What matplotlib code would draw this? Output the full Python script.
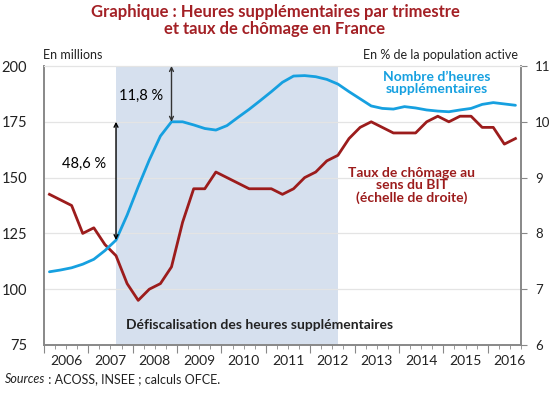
import numpy as np
import matplotlib.pyplot as plt

plt.rcParams['font.family'] = ['Lato', 'DejaVu Sans']

# Quarterly data, 2006Q1 -> 2016Q3
heures = [107.8, 108.6, 109.6, 111.2, 113.4, 117.3, 122.0, 133.2, 145.9, 157.9,
          168.6, 175.0, 175.0, 173.6, 172.0, 171.3, 173.3, 177.0, 180.6, 184.5,
          188.5, 192.7, 195.5, 195.7, 195.2, 194.0, 191.9, 188.5, 185.3, 182.1,
          181.0, 180.7, 181.8, 181.2, 180.3, 179.8, 179.5, 180.3, 181.0, 182.8,
          183.6, 183.0, 182.4]
chomage = [8.7, 8.6, 8.5, 8.0, 8.1, 7.8, 7.6, 7.1, 6.8, 7.0, 7.1, 7.4, 8.2, 8.8,
           8.8, 9.1, 9.0, 8.9, 8.8, 8.8, 8.8, 8.7, 8.8, 9.0, 9.1, 9.3, 9.4, 9.7,
           9.9, 10.0, 9.9, 9.8, 9.8, 9.8, 10.0, 10.1, 10.0, 10.1, 10.1, 9.9, 9.9,
           9.6, 9.7]
years = list(range(2006, 2017))
left_ticks = [75, 100, 125, 150, 175, 200]
right_ticks = [6, 7, 8, 9, 10, 11]
periode_defisc = (2007.625, 2012.625)

blue = '#16a0e0'
red = '#9c1c1c'
title_red = '#a32025'

x = 2006 + (np.arange(len(heures)) + 0.5) / 4

fig = plt.figure(figsize=(5.5, 3.93), dpi=100)
ax = fig.add_axes([43.9 / 550, 1 - 345 / 393, (521 - 43.9) / 550, (345 - 66) / 393])
ax2 = ax.twinx()

# shading and grid go on the lower (right-scale) axes so both lines sit on top
ax2.axvspan(*periode_defisc, color='#d6e0ee', lw=0, zorder=0)
for v in right_ticks[1:-1]:
    ax2.axhline(v, color='#e4e4e4', lw=0.9, zorder=1)

ax.plot(x, heures, color=blue, lw=2, zorder=3, solid_capstyle='round')
ax2.plot(x, chomage, color=red, lw=2, zorder=3)

ax.set_xlim(2006, 2016.75)
ax.set_ylim(75, 200)
ax2.set_ylim(6, 11)
ax.set_yticks(left_ticks)
ax2.set_yticks(right_ticks)

ax.set_xticks(years)
ax.set_xticklabels([])
ax.set_xticks(np.arange(2006, 2016.76, 0.25), minor=True)
ax.tick_params(axis='x', which='major', length=6, color='#888888', direction='out')
ax.tick_params(axis='x', which='minor', length=3, color='#888888', direction='out')
for yr in years:
    ax.text(yr + 0.5, -0.035, str(yr), transform=ax.get_xaxis_transform(),
            ha='center', va='top', fontsize=10, color='#222222')

ax.tick_params(axis='y', length=0, labelsize=10.5, labelcolor='#222222', pad=12)
ax2.tick_params(axis='y', length=4, color='#888888', labelsize=9.5,
                labelcolor='#222222', pad=6)

for a in (ax, ax2):
    a.spines['top'].set_color('#e4e4e4')
    for s in ('left', 'right', 'bottom'):
        a.spines[s].set_color('#888888')
        a.spines[s].set_linewidth(1.2)

ax.set_zorder(ax2.get_zorder() + 1)
ax.patch.set_visible(False)

# arrows
ax.annotate('', xy=(x[6], 175), xytext=(x[6], heures[6]),
            arrowprops=dict(arrowstyle='<->', color='black', lw=1,
                            shrinkA=0, shrinkB=0, mutation_scale=7), zorder=4)
ax.annotate('', xy=(x[11], 200), xytext=(x[11], 175),
            arrowprops=dict(arrowstyle='<->', color='#333333', lw=1,
                            shrinkA=0, shrinkB=0, mutation_scale=7), zorder=4)
ax.text(2006.9, 156, '48,6 %', ha='center', va='center', fontsize=10.5, color='black')
ax.text(2008.19, 186.6, '11,8 %', ha='center', va='center', fontsize=10.5, color='black')

ax.text(2014.85, 192.4, 'Nombre d\u2019heures\nsupplémentaires', ha='center', va='center',
        fontsize=10, fontweight='bold', color=blue, linespacing=0.95)
ax.text(2014.29, 146.5, 'Taux de chômage au\nsens du BIT\n(échelle de droite)',
        ha='center', va='center', fontsize=10, fontweight='bold', color=red,
        linespacing=1.05)
ax.text(2007.85, 84, 'Défiscalisation des heures supplémentaires', ha='left',
        va='center', fontsize=10, fontweight='bold', color='#222222')

fig.text(43 / 550, 1 - 55 / 393, 'En millions', ha='left', va='center', fontsize=9, color='#222222')
fig.text(518 / 550, 1 - 55 / 393, 'En % de la population active', ha='right', va='center',
         fontsize=9, color='#222222')

fig.text(0.5, 1 - 12 / 393, 'Graphique : Heures supplémentaires par trimestre',
         ha='center', va='center', fontsize=12, fontweight='bold', color=title_red)
fig.text(0.5, 1 - 29 / 393, 'et taux de chômage en France',
         ha='center', va='center', fontsize=12, fontweight='bold', color=title_red)

# sources line: italic word followed by plain text
src = fig.text(5 / 550, 1 - 383 / 393, 'Sources', ha='left', va='baseline', fontsize=9,
               style='italic', color='#222222')
ax.annotate(' : ACOSS, INSEE ; calculs OFCE.', xy=(1, 0), xycoords=src,
            ha='left', va='bottom', fontsize=9, color='#222222', annotation_clip=False)

fig.savefig('out.png', dpi=100)
